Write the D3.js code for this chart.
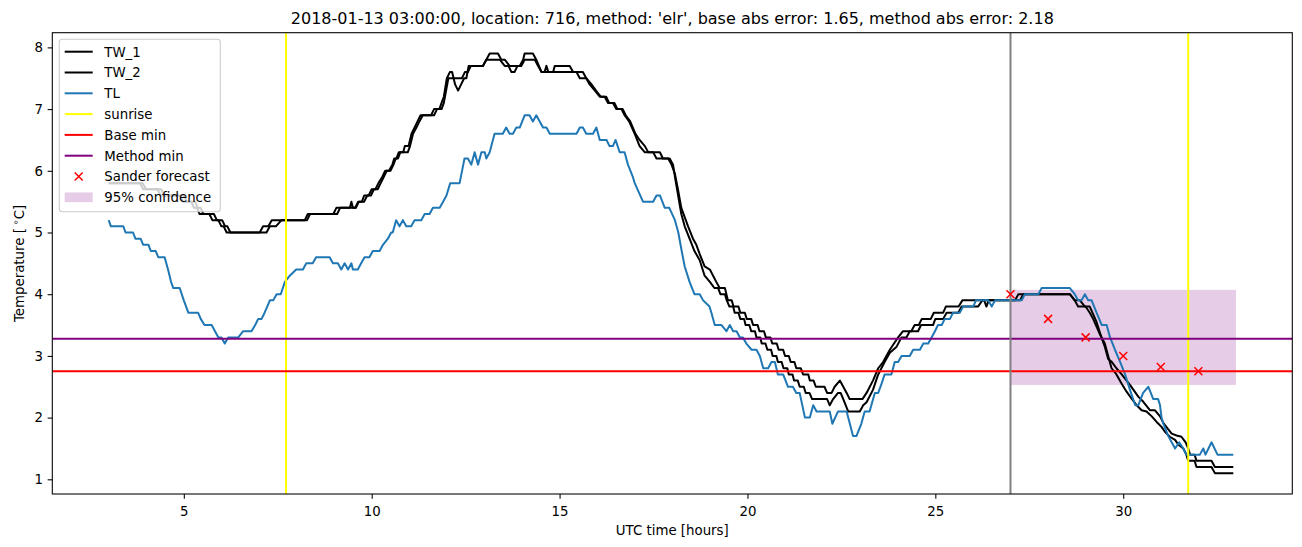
<!DOCTYPE html>
<html><head><meta charset="utf-8">
<script src="https://cdn.jsdelivr.net/npm/d3@7"></script>
<style>
html,body{margin:0;padding:0;background:#fff;}
text{font-family:"DejaVu Sans",sans-serif;}
</style></head>
<body><svg id="c" width="1302" height="547"></svg>
<script>
const titleText = "2018-01-13 03:00:00, location: 716, method: 'elr', base abs error: 1.65, method abs error: 2.18";
const xTicks = [5,10,15,20,25,30];
const yTicks = [1,2,3,4,5,6,7,8];
const legendLabels = ["TW_1","TW_2","TL","sunrise","Base min","Method min","Sander forecast","95% confidence"];

const TW_1 = [[3.0,5.8],[3.83,5.8],[3.92,5.7],[4.3,5.7],[4.38,5.6],[4.9,5.6],[4.98,5.5],[5.2,5.5],[5.27,5.4],[5.35,5.4],[5.42,5.3],[5.68,5.3],[5.76,5.2],[5.92,5.2],[6.0,5.1],[6.06,5.1],[6.14,5.0],[7.02,5.0],[7.11,5.1],[7.25,5.1],[7.34,5.2],[8.22,5.2],[8.30,5.3],[8.98,5.3],[9.06,5.4],[9.42,5.4],[9.46,5.5],[9.50,5.4],[9.56,5.4],[9.64,5.5],[9.74,5.5],[9.80,5.6],[9.92,5.6],[10.0,5.7],[10.10,5.7],[10.18,5.8],[10.28,5.9],[10.36,6.0],[10.46,6.0],[10.55,6.1],[10.60,6.2],[10.66,6.2],[10.72,6.3],[10.84,6.3],[10.88,6.4],[10.98,6.4],[11.06,6.6],[11.14,6.7],[11.22,6.8],[11.30,6.9],[11.58,6.9],[11.66,7.0],[11.80,7.0],[11.86,7.1],[11.92,7.2],[12.0,7.5],[12.08,7.6],[12.14,7.6],[12.22,7.4],[12.30,7.3],[12.38,7.4],[12.46,7.5],[12.52,7.5],[12.58,7.7],[12.96,7.7],[13.05,7.8],[13.14,7.9],[13.36,7.9],[13.45,7.8],[13.54,7.8],[13.67,7.7],[13.94,7.7],[14.03,7.8],[14.07,7.9],[14.29,7.9],[14.38,7.8],[14.52,7.6],[14.60,7.6],[14.65,7.7],[14.70,7.6],[14.83,7.6],[14.87,7.7],[15.27,7.7],[15.36,7.6],[15.62,7.6],[15.71,7.5],[15.80,7.4],[15.94,7.3],[16.07,7.2],[16.20,7.2],[16.29,7.1],[16.42,7.1],[16.51,7.0],[16.65,7.0],[16.73,6.9],[16.85,6.8],[17.0,6.6],[17.13,6.4],[17.27,6.3],[17.67,6.3],[17.75,6.2],[17.93,6.2],[18.02,6.1],[18.07,5.9],[18.24,5.3],[18.33,5.1],[18.46,4.9],[18.59,4.7],[18.73,4.55],[18.86,4.3],[19.0,4.2],[19.12,4.1],[19.22,4.1],[19.28,4.0],[19.40,4.0],[19.45,3.9],[19.52,3.8],[19.62,3.8],[19.66,3.7],[19.76,3.7],[19.81,3.6],[19.91,3.6],[19.95,3.5],[20.05,3.5],[20.10,3.4],[20.20,3.4],[20.24,3.3],[20.34,3.3],[20.38,3.2],[20.48,3.2],[20.53,3.1],[20.63,3.1],[20.67,3.0],[20.77,3.0],[20.81,2.9],[20.91,2.9],[20.96,2.8],[21.06,2.8],[21.10,2.7],[21.20,2.7],[21.24,2.6],[21.34,2.6],[21.39,2.5],[21.50,2.5],[21.55,2.4],[21.65,2.4],[21.72,2.3],[22.12,2.3],[22.19,2.2],[22.28,2.3],[22.41,2.4],[22.48,2.4],[22.55,2.3],[22.68,2.1],[22.99,2.1],[23.08,2.2],[23.17,2.25],[23.34,2.45],[23.48,2.7],[23.65,2.9],[23.79,3.05],[23.97,3.15],[24.10,3.3],[24.23,3.3],[24.32,3.4],[24.54,3.4],[24.62,3.5],[24.94,3.5],[25.0,3.6],[25.21,3.6],[25.30,3.7],[25.61,3.7],[25.70,3.8],[26.14,3.8],[26.25,3.9],[27.12,3.9],[27.21,4.0],[28.58,4.0],[28.71,3.9],[28.80,3.8],[29.0,3.8],[29.11,3.7],[29.20,3.6],[29.38,3.35],[29.51,3.2],[29.60,3.0],[29.69,2.8],[29.82,2.7],[29.96,2.55],[30.09,2.42],[30.22,2.31],[30.36,2.2],[30.49,2.12],[30.62,2.1],[30.76,2.02],[30.89,1.93],[31.02,1.85],[31.11,1.77],[31.24,1.69],[31.38,1.64],[31.47,1.56],[31.60,1.5],[31.68,1.4],[31.73,1.3],[31.90,1.3],[31.95,1.2],[32.35,1.2],[32.44,1.1],[32.93,1.1]];

const TW_2 = [[3.0,5.8],[3.9,5.8],[4.0,5.7],[4.4,5.7],[4.48,5.6],[5.0,5.6],[5.08,5.5],[5.3,5.5],[5.37,5.4],[5.45,5.4],[5.52,5.3],[5.80,5.3],[5.88,5.2],[6.02,5.2],[6.10,5.1],[6.16,5.1],[6.24,5.0],[7.20,5.0],[7.29,5.1],[7.45,5.1],[7.60,5.2],[8.28,5.2],[8.36,5.3],[9.08,5.3],[9.16,5.4],[9.58,5.4],[9.66,5.5],[9.80,5.5],[9.88,5.6],[9.98,5.6],[10.06,5.7],[10.16,5.7],[10.24,5.8],[10.32,5.9],[10.40,6.0],[10.50,6.0],[10.58,6.1],[10.64,6.2],[10.70,6.2],[10.76,6.3],[10.96,6.3],[11.02,6.4],[11.10,6.6],[11.19,6.7],[11.27,6.8],[11.36,6.9],[11.66,6.9],[11.74,7.0],[11.86,7.0],[11.92,7.1],[11.98,7.3],[12.04,7.5],[12.40,7.5],[12.48,7.6],[12.56,7.6],[12.64,7.7],[12.96,7.7],[13.05,7.8],[13.41,7.8],[13.54,7.7],[13.64,7.7],[13.72,7.6],[13.80,7.6],[13.88,7.7],[13.98,7.7],[14.07,7.8],[14.34,7.8],[14.43,7.7],[14.52,7.6],[15.45,7.6],[15.54,7.5],[15.71,7.5],[15.85,7.4],[15.97,7.3],[16.10,7.2],[16.24,7.2],[16.32,7.1],[16.46,7.1],[16.54,7.0],[16.68,7.0],[16.76,6.9],[16.88,6.8],[17.02,6.6],[17.13,6.5],[17.27,6.4],[17.36,6.3],[17.49,6.3],[17.58,6.2],[17.89,6.2],[17.98,6.1],[18.07,5.95],[18.15,5.7],[18.24,5.4],[18.33,5.25],[18.42,5.1],[18.55,4.9],[18.64,4.8],[18.73,4.65],[18.86,4.45],[19.0,4.4],[19.17,4.2],[19.26,4.1],[19.40,4.1],[19.48,3.9],[19.58,3.9],[19.63,3.8],[19.76,3.8],[19.81,3.7],[19.93,3.7],[19.98,3.6],[20.10,3.6],[20.15,3.5],[20.27,3.5],[20.32,3.4],[20.44,3.4],[20.49,3.3],[20.61,3.3],[20.66,3.2],[20.78,3.2],[20.83,3.1],[20.95,3.1],[21.0,3.0],[21.10,3.0],[21.15,2.9],[21.25,2.9],[21.30,2.8],[21.42,2.8],[21.48,2.7],[21.62,2.7],[21.66,2.6],[21.76,2.6],[21.82,2.5],[22.05,2.5],[22.12,2.4],[22.24,2.4],[22.32,2.5],[22.46,2.6],[22.55,2.5],[22.64,2.4],[22.72,2.3],[23.06,2.3],[23.17,2.4],[23.34,2.6],[23.48,2.8],[23.61,2.9],[23.79,3.1],[23.90,3.2],[24.01,3.3],[24.14,3.4],[24.36,3.4],[24.45,3.5],[24.56,3.5],[24.64,3.6],[24.88,3.6],[24.96,3.7],[25.21,3.7],[25.28,3.8],[25.62,3.8],[25.72,3.9],[26.30,3.9],[26.36,3.8],[26.42,3.9],[27.25,3.9],[27.34,4.0],[28.58,4.0],[28.71,3.9],[28.85,3.9],[28.98,3.8],[29.11,3.8],[29.29,3.55],[29.42,3.3],[29.51,3.15],[29.60,2.95],[29.70,2.9],[29.82,2.8],[29.96,2.7],[30.09,2.6],[30.18,2.53],[30.40,2.34],[30.53,2.26],[30.71,2.12],[30.84,2.12],[30.98,2.02],[31.07,1.91],[31.20,1.81],[31.29,1.74],[31.42,1.71],[31.55,1.69],[31.66,1.6],[31.73,1.5],[31.78,1.4],[31.90,1.4],[31.95,1.3],[32.35,1.3],[32.44,1.2],[32.93,1.2]];

const TL = [[3.0,5.2],[3.06,5.1],[3.39,5.1],[3.45,5.0],[3.65,5.0],[3.71,4.9],[3.85,4.9],[3.92,4.8],[4.06,4.8],[4.12,4.7],[4.25,4.7],[4.32,4.6],[4.49,4.6],[4.58,4.4],[4.66,4.2],[4.72,4.1],[4.89,4.1],[5.0,3.9],[5.12,3.7],[5.38,3.7],[5.45,3.6],[5.55,3.5],[5.74,3.5],[5.83,3.4],[5.92,3.3],[6.0,3.3],[6.09,3.2],[6.18,3.3],[6.45,3.3],[6.58,3.4],[6.8,3.4],[6.9,3.5],[6.98,3.6],[7.07,3.6],[7.15,3.7],[7.22,3.8],[7.29,3.9],[7.38,3.9],[7.47,4.0],[7.58,4.0],[7.69,4.2],[7.82,4.3],[7.99,4.4],[8.17,4.4],[8.26,4.5],[8.43,4.5],[8.52,4.6],[8.88,4.6],[8.97,4.5],[9.10,4.5],[9.19,4.4],[9.28,4.5],[9.37,4.4],[9.46,4.5],[9.50,4.4],[9.63,4.4],[9.72,4.5],[9.81,4.6],[9.94,4.6],[10.03,4.7],[10.21,4.7],[10.30,4.8],[10.43,4.9],[10.52,5.0],[10.56,5.0],[10.65,5.2],[10.74,5.1],[10.83,5.2],[10.92,5.1],[11.05,5.1],[11.14,5.2],[11.32,5.2],[11.41,5.3],[11.54,5.3],[11.63,5.4],[11.81,5.4],[11.90,5.5],[11.99,5.6],[12.09,5.8],[12.34,5.8],[12.47,6.2],[12.56,6.2],[12.65,6.1],[12.74,6.3],[12.83,6.1],[12.92,6.3],[13.01,6.3],[13.05,6.2],[13.14,6.3],[13.27,6.6],[13.49,6.6],[13.58,6.7],[13.67,6.6],[13.76,6.6],[13.85,6.7],[13.94,6.7],[14.07,6.9],[14.20,6.9],[14.29,6.8],[14.38,6.9],[14.56,6.7],[14.65,6.7],[14.74,6.6],[15.45,6.6],[15.54,6.7],[15.62,6.7],[15.71,6.6],[15.89,6.6],[15.98,6.7],[16.07,6.5],[16.25,6.5],[16.33,6.4],[16.42,6.4],[16.49,6.5],[16.60,6.3],[16.73,6.3],[16.82,6.1],[16.95,5.9],[17.0,5.8],[17.22,5.5],[17.49,5.5],[17.58,5.6],[17.67,5.6],[17.80,5.4],[17.92,5.4],[18.07,5.2],[18.16,5.0],[18.25,4.7],[18.33,4.45],[18.46,4.2],[18.59,4.0],[18.73,4.0],[18.82,3.9],[18.99,3.8],[19.04,3.7],[19.13,3.5],[19.31,3.5],[19.44,3.4],[19.53,3.5],[19.62,3.4],[19.71,3.4],[19.80,3.3],[19.88,3.3],[19.97,3.2],[20.11,3.1],[20.24,3.1],[20.33,3.0],[20.42,2.8],[20.55,2.8],[20.64,2.9],[20.73,2.9],[20.81,2.7],[20.95,2.7],[21.08,2.5],[21.21,2.5],[21.30,2.4],[21.39,2.4],[21.53,2.0],[21.66,2.0],[21.75,2.2],[21.84,2.1],[22.19,2.1],[22.26,1.9],[22.41,2.1],[22.64,2.1],[22.81,1.7],[22.90,1.7],[23.03,1.9],[23.12,2.1],[23.25,2.1],[23.39,2.4],[23.48,2.4],[23.57,2.55],[23.65,2.7],[23.83,2.7],[23.92,2.9],[24.01,2.9],[24.10,3.0],[24.32,3.0],[24.41,3.1],[24.59,3.1],[24.68,3.2],[24.81,3.2],[24.90,3.3],[24.99,3.4],[25.07,3.5],[25.17,3.5],[25.25,3.6],[25.39,3.6],[25.47,3.7],[25.65,3.7],[25.74,3.8],[26.01,3.8],[26.08,3.9],[26.41,3.9],[26.50,3.8],[26.59,3.9],[27.30,3.9],[27.38,4.0],[27.74,4.0],[27.83,4.1],[28.58,4.1],[28.71,4.0],[28.80,3.9],[28.89,3.9],[28.98,4.0],[29.07,3.9],[29.16,3.9],[29.29,3.7],[29.43,3.5],[29.56,3.5],[29.65,3.3],[29.78,3.1],[29.92,2.9],[30.05,2.7],[30.18,2.45],[30.32,2.2],[30.40,2.2],[30.53,2.4],[30.67,2.5],[30.80,2.3],[30.93,2.3],[30.98,2.2],[31.02,2.0],[31.07,1.9],[31.20,1.7],[31.29,1.6],[31.38,1.5],[31.49,1.6],[31.60,1.5],[31.68,1.4],[32.04,1.4],[32.13,1.5],[32.19,1.4],[32.35,1.6],[32.51,1.4],[32.93,1.4]];

const sunriseHours = [7.72, 31.73];
const forecastStart = [27];
const baseMin = [2.75];
const methodMin = [3.28];
const sanderHours = [27,28,29,30,31,32];
const sanderValues = [4.0,3.6,3.3,3.0,2.82,2.75];
const confHours = [27,33];
const confLow = [2.53];
const confHigh = [4.07];

const svg = d3.select("#c");
const L = 52.3, R = 1292.3, T = 32.7, B = 494;
const x = d3.scaleLinear().domain([1.5, 34.5]).range([L, R]);
const y = d3.scaleLinear().domain([0.762, 8.238]).range([B, T]);

svg.append("defs").append("clipPath").attr("id","clip")
  .append("rect").attr("x",L).attr("y",T).attr("width",R-L).attr("height",B-T);

const plot = svg.append("g").attr("clip-path","url(#clip)");

plot.append("rect")
  .attr("x", x(confHours[0])).attr("width", x(confHours[1]) - x(confHours[0]))
  .attr("y", y(confHigh[0])).attr("height", y(confLow[0]) - y(confHigh[0]))
  .attr("fill", "purple").attr("fill-opacity", 0.2);

const line = d3.line().x(d => x(d[0])).y(d => y(d[1]));
[[TW_1,"#000000"],[TW_2,"#000000"],[TL,"#1f77b4"]].forEach(([s,c]) => {
  plot.append("path").attr("d", line(s)).attr("fill","none").attr("stroke",c)
    .attr("stroke-width",2).attr("stroke-linejoin","round");
});

sunriseHours.forEach(h => plot.append("line").attr("x1",x(h)).attr("x2",x(h)).attr("y1",T).attr("y2",B)
  .attr("stroke","#ffff00").attr("stroke-width",2));
plot.append("line").attr("x1",L).attr("x2",R).attr("y1",y(baseMin[0])).attr("y2",y(baseMin[0]))
  .attr("stroke","#ff0000").attr("stroke-width",2);
plot.append("line").attr("x1",L).attr("x2",R).attr("y1",y(methodMin[0])).attr("y2",y(methodMin[0]))
  .attr("stroke","#800080").attr("stroke-width",2);
forecastStart.forEach(h => plot.append("line").attr("x1",x(h)).attr("x2",x(h)).attr("y1",T).attr("y2",B)
  .attr("stroke","#808080").attr("stroke-width",2));

const xMark = (g, cx, cy, s) => {
  g.append("path").attr("d", `M${cx-s},${cy-s}L${cx+s},${cy+s}M${cx-s},${cy+s}L${cx+s},${cy-s}`)
    .attr("stroke","#ff0000").attr("stroke-width",1.5).attr("fill","none");
};
sanderHours.forEach((h,i) => xMark(plot, x(h), y(sanderValues[i]), 4));

const xAxis = d3.axisBottom(x).tickValues(xTicks).tickSizeOuter(0).tickSize(4.67).tickPadding(8);
const yAxis = d3.axisLeft(y).tickValues(yTicks).tickSizeOuter(0).tickSize(4.67).tickPadding(4.67);
const gx = svg.append("g").attr("transform",`translate(0,${B})`).call(xAxis);
const gy = svg.append("g").attr("transform",`translate(${L},0)`).call(yAxis);
[gx,gy].forEach(g => {
  g.select(".domain").remove();
  g.selectAll("line").attr("stroke","#000").attr("stroke-width",1.07);
  g.selectAll("text").attr("font-size","13.33px").attr("fill","#000").attr("font-family","DejaVu Sans");
});
svg.append("rect").attr("x",L).attr("y",T).attr("width",R-L).attr("height",B-T)
  .attr("fill","none").attr("stroke","#000").attr("stroke-width",1.07);

svg.append("text").attr("x",(L+R)/2).attr("y",24).attr("text-anchor","middle")
  .attr("font-size","16px").text(titleText);
svg.append("text").attr("x",(L+R)/2).attr("y",534.5).attr("text-anchor","middle")
  .attr("font-size","13.33px").text("UTC time [hours]");
const yl = svg.append("text").attr("transform",`translate(24,${(T+B)/2}) rotate(-90)`)
  .attr("text-anchor","middle").attr("font-size","13.33px");
yl.append("tspan").text("Temperature [");
yl.append("tspan").attr("dx","3").attr("dy","-5").attr("font-size","9.5px").text("∘");
yl.append("tspan").attr("dy","5").text("C]");

const lg = svg.append("g");
lg.append("rect").attr("x",59.3).attr("y",39.3).attr("width",161).attr("height",172.4)
  .attr("rx",3).attr("fill","#fff").attr("fill-opacity",0.8).attr("stroke","#cccccc").attr("stroke-width",1.07);
const legendStyles = [
  {t:"line", c:"#000000"},{t:"line", c:"#000000"},{t:"line", c:"#1f77b4"},{t:"line", c:"#ffff00"},
  {t:"line", c:"#ff0000"},{t:"line", c:"#800080"},{t:"x", c:"#ff0000"},{t:"patch", c:"purple"}];
legendLabels.forEach((lab,i) => {
  const cy = 51.7 + i*20.8;
  const st = legendStyles[i];
  if (st.t === "line") {
    lg.append("line").attr("x1",64.7).attr("x2",92.7).attr("y1",cy).attr("y2",cy)
      .attr("stroke",st.c).attr("stroke-width",2);
  } else if (st.t === "x") {
    xMark(lg, 78.7, cy, 4);
  } else {
    lg.append("rect").attr("x",64.7).attr("y",cy-4.85).attr("width",28).attr("height",9.7)
      .attr("fill",st.c).attr("fill-opacity",0.2);
  }
  lg.append("text").attr("x",104.3).attr("y",cy+4.8).attr("font-size","13.33px").text(lab);
});
</script></body></html>
